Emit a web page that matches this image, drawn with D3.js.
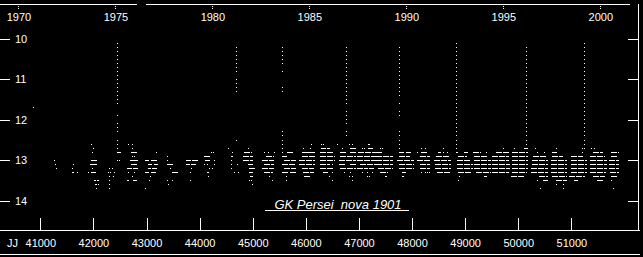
<!DOCTYPE html>
<html lang="en">
<head>
<meta charset="utf-8">
<title>GK Persei nova 1901</title>
<script src="https://d3js.org/d3.v7.min.js"></script>
<style>
  html, body { margin: 0; padding: 0; background: #000; }
  svg { display: block; background: #000; }
  text { font-family: "Liberation Sans", Arial, sans-serif; fill: #fff; }
</style>
</head>
<body>
<svg id="chart" width="643" height="257"></svg>
<script>

// tick values
var yearTicks = [1970, 1975, 1980, 1985, 1990, 1995, 2000];
var jdTicks = [41000, 42000, 43000, 44000, 45000, 46000, 47000, 48000, 49000, 50000, 51000];
var magTicks = [10, 11, 12, 13, 14];

// outbursts: date (JD - 2400000) and the magnitudes seen in each column
var outburstJD = [42454, 44685, 45570, 46766, 47755, 48837, 50155, 51247];
var outburstMags = [
  [10.1, 10.2, 10.3, 10.4, 10.5, 10.6, 10.7, 10.8, 10.9, 11.0, 11.1, 11.2, 11.3, 11.4, 11.5, 11.6, 11.9, 12.1, 12.2, 12.3, 12.5, 12.6, 12.7, 12.8, 13.0],
  [10.2, 10.3, 10.4, 10.5, 10.6, 10.7, 10.8, 11.0, 11.1, 11.2, 11.3, 12.5],
  [10.2, 10.3, 10.4, 10.5, 10.6, 10.8, 11.2, 11.3, 12.3, 12.4, 12.5, 12.6],
  [10.2, 10.3, 10.4, 10.5, 10.6, 10.7, 10.8, 10.9, 11.0, 11.1, 11.2, 11.3, 11.4, 11.5, 11.6, 11.8, 11.9, 12.0, 12.1, 12.3, 12.4],
  [10.2, 10.3, 10.4, 10.5, 10.6, 10.7, 10.8, 10.9, 11.0, 11.1, 11.2, 11.3, 11.4, 11.6, 11.8, 11.9, 12.3, 12.4, 12.5, 12.6, 12.7],
  [10.1, 10.2, 10.3, 10.4, 10.5, 10.6, 10.7, 10.8, 10.9, 11.0, 11.1, 11.2, 11.3, 11.4, 11.5, 11.6, 11.7, 11.8, 11.9, 12.0, 12.1, 12.2, 12.3, 12.4, 12.5, 12.6, 12.7, 12.8],
  [10.2, 10.3, 10.4, 10.5, 10.6, 10.7, 10.8, 10.9, 11.0, 11.1, 11.2, 11.3, 11.4, 11.5, 11.6, 11.7, 11.8, 11.9, 12.0, 12.1, 12.2, 12.3, 12.4, 12.5, 12.6],
  [10.1, 10.2, 10.3, 10.4, 10.5, 10.6, 10.7, 10.8, 10.9, 11.0, 11.1, 11.2, 11.3, 11.4, 11.5, 11.6, 11.7, 11.8, 11.9, 12.0, 12.1, 12.2, 12.3, 12.4, 12.5, 12.6, 12.7]
];

// quiescence estimates: [JD from, JD to, magnitude] (from == to for a single estimate)
var quiescence = [
  [40881, 40881, 11.7],
  [41258, 41258, 13.0], [41277, 41277, 13.1], [41296, 41296, 13.2],
  // 1972
  [41616, 41616, 13.1], [41610, 41610, 13.2],
  [41597, 41597, 13.3], [41634, 41634, 13.3], [41691, 41691, 13.3],
  // 1973
  [41968, 41968, 12.6], [41998, 41998, 12.7], [41992, 41992, 12.8],
  [41955, 41992, 13.0], [42011, 42049, 13.0],
  [41936, 41992, 13.1], [42011, 42061, 13.1],
  [41992, 41992, 13.2],
  [41904, 41904, 13.3], [41955, 42030, 13.3],
  [42017, 42030, 13.5], [42086, 42105, 13.5],
  [42030, 42049, 13.6], [42105, 42105, 13.6],
  [42049, 42049, 13.7],
  // 1974
  [42312, 42312, 13.2], [42363, 42363, 13.2],
  [42275, 42275, 13.3], [42331, 42331, 13.3], [42406, 42406, 13.3],
  [42294, 42294, 13.4], [42369, 42369, 13.4],
  [42294, 42294, 13.5], [42312, 42312, 13.6], [42294, 42294, 13.7],
  [42463, 42501, 12.8], [42482, 42482, 13.0],
  // 1975-76
  [42670, 42670, 12.6], [42727, 42727, 12.6], [42727, 42727, 12.7],
  [42708, 42821, 12.8],
  [42727, 42727, 12.9], [42783, 42783, 12.9],
  [42689, 42727, 13.0], [42764, 42821, 13.0],
  [42708, 42821, 13.1],
  [42651, 42708, 13.2], [42746, 42821, 13.2],
  [42670, 42670, 13.3], [42783, 42783, 13.3],
  [42727, 42727, 13.4],
  [42651, 42670, 13.5], [42746, 42802, 13.5],
  // 1976-77
  [43197, 43197, 12.8],
  [42990, 43028, 13.0], [43085, 43197, 13.0],
  [43028, 43103, 13.1], [43141, 43216, 13.1],
  [43028, 43066, 13.2], [43122, 43197, 13.2],
  [42990, 43028, 13.3], [43103, 43160, 13.3],
  [43066, 43066, 13.4], [43047, 43047, 13.5], [42990, 42990, 13.7],
  // 1977-78
  [43398, 43398, 12.9], [43386, 43386, 13.0],
  [43404, 43480, 13.1], [43461, 43461, 13.2], [43480, 43574, 13.3],
  [43386, 43386, 13.5], [43480, 43480, 13.5], [43423, 43423, 13.6],
  // 1978-79
  [43762, 43819, 13.0], [43875, 43951, 13.0],
  [43762, 43800, 13.1], [43856, 43913, 13.1],
  [43856, 43856, 13.2], [43819, 43819, 13.3], [43819, 43819, 13.5],
  // 1979-80
  [44233, 44233, 12.8], [44270, 44270, 12.8],
  [44101, 44195, 12.9],
  [44120, 44195, 13.0], [44276, 44276, 13.0],
  [44101, 44101, 13.1], [44139, 44139, 13.1], [44276, 44276, 13.1],
  [44195, 44195, 13.2], [44251, 44251, 13.2],
  [44139, 44158, 13.3], [44158, 44158, 13.4],
  // 1980-81
  [44553, 44553, 12.7], [44628, 44628, 12.8],
  [44591, 44628, 12.9], [44591, 44591, 13.0], [44591, 44591, 13.1], [44704, 44704, 13.1],
  [44591, 44591, 13.2], [44666, 44666, 13.3], [44723, 44723, 13.3],
  // 1981-82
  [44911, 44911, 12.7], [44854, 44986, 12.8], [44835, 45005, 12.9],
  [44835, 45005, 13.0], [44911, 45005, 13.1], [44930, 45043, 13.2],
  [44930, 45005, 13.3], [44949, 45005, 13.4],
  [44930, 44930, 13.5], [44986, 44986, 13.5], [45005, 45005, 13.6],
  // 1982-83
  [45231, 45231, 12.8], [45306, 45306, 12.8], [45419, 45419, 12.8],
  [45250, 45400, 12.9], [45193, 45400, 13.0], [45231, 45400, 13.1],
  [45193, 45400, 13.2], [45231, 45363, 13.3], [45325, 45325, 13.4], [45363, 45363, 13.5],
  // 1983-84
  [45570, 45570, 12.7], [45570, 45570, 12.8], [45664, 45758, 12.8],
  [45570, 45645, 12.9], [45589, 45796, 13.0], [45570, 45796, 13.1],
  [45589, 45796, 13.2], [45570, 45664, 13.3], [45702, 45796, 13.3],
  [45645, 45645, 13.4], [45645, 45645, 13.5],
  // 1984-85
  [46116, 46116, 12.6], [45947, 45947, 12.7], [46097, 46097, 12.7],
  [45928, 45984, 12.8], [46003, 46059, 12.8], [46078, 46172, 12.8],
  [45928, 46172, 12.9], [45890, 46172, 13.0], [45890, 46172, 13.1],
  [45928, 46135, 13.2], [45947, 46135, 13.3], [45984, 46078, 13.4],
  // 1985-86
  [46304, 46304, 12.6], [46342, 46342, 12.6],
  [46304, 46361, 12.7], [46399, 46455, 12.7],
  [46285, 46511, 12.8], [46285, 46549, 12.9], [46267, 46549, 13.0],
  [46285, 46455, 13.1], [46511, 46511, 13.1], [46285, 46511, 13.2],
  [46342, 46399, 13.3], [46511, 46511, 13.3], [46455, 46455, 13.4], [46511, 46511, 13.5],
  // 1986-87
  [46605, 46605, 12.6], [46813, 46813, 12.6], [46870, 46870, 12.6],
  [46699, 46699, 12.7], [46832, 46926, 12.7],
  [46662, 46756, 12.8], [46832, 46926, 12.8],
  [46662, 46926, 12.9], [46643, 46926, 13.0],
  [46643, 46756, 13.1], [46832, 46926, 13.1],
  [46662, 46926, 13.2], [46737, 46737, 13.3], [46832, 46832, 13.3],
  [46813, 46813, 13.4], [46870, 46870, 13.4], [46870, 46870, 13.5],
  // 1987-88
  [47171, 47171, 12.6], [47208, 47208, 12.6],
  [47058, 47058, 12.7], [47114, 47114, 12.7], [47171, 47246, 12.7],
  [47001, 47303, 12.8], [46982, 47303, 12.9], [46982, 47303, 13.0],
  [47020, 47303, 13.1], [46982, 47152, 13.2], [47208, 47265, 13.2],
  [47076, 47076, 13.3], [47152, 47152, 13.3], [47246, 47246, 13.3],
  [47152, 47152, 13.4], [47208, 47208, 13.4],
  // 1988-89
  [47397, 47397, 12.7], [47453, 47453, 12.7],
  [47340, 47453, 12.8], [47340, 47623, 12.9], [47340, 47623, 13.0],
  [47340, 47623, 13.1], [47359, 47623, 13.2],
  [47397, 47491, 13.3], [47547, 47547, 13.3], [47491, 47491, 13.4], [47528, 47528, 13.4],
  // 1989-90
  [47773, 47830, 12.8], [47905, 47980, 12.8],
  [47755, 47961, 12.9], [47717, 48018, 13.0], [47773, 48018, 13.1],
  [47773, 48018, 13.2], [47811, 47868, 13.3], [47811, 47811, 13.4], [47830, 47830, 13.4],
  // 1990-91
  [48187, 48187, 12.7], [48244, 48244, 12.7],
  [48112, 48112, 12.8], [48187, 48300, 12.8],
  [48150, 48338, 12.9], [48112, 48338, 13.0], [48150, 48338, 13.1], [48150, 48338, 13.2],
  [48187, 48187, 13.3], [48244, 48244, 13.3], [48300, 48300, 13.3], [48338, 48338, 13.3],
  // 1991-92
  [48601, 48601, 12.7],
  [48507, 48545, 12.8], [48601, 48601, 12.8], [48677, 48677, 12.8],
  [48464, 48682, 12.9], [48432, 48733, 13.0], [48451, 48733, 13.1], [48451, 48733, 13.2],
  [48470, 48715, 13.3],
  // 1992-93
  [48847, 48847, 12.8], [48997, 49053, 12.8],
  [48866, 49034, 12.9], [48847, 49092, 13.0], [48847, 49129, 13.1], [48847, 49129, 13.2],
  [48866, 49092, 13.3], [48903, 48903, 13.4], [48884, 48884, 13.5],
  // 1993-94
  [49166, 49280, 12.8], [49411, 49411, 12.8],
  [49185, 49411, 12.9], [49185, 49468, 13.0], [49185, 49468, 13.1], [49185, 49468, 13.2],
  [49223, 49468, 13.3], [49355, 49411, 13.4],
  // 1994-95
  [49713, 49713, 12.7], [49581, 49807, 12.8], [49524, 49807, 12.9],
  [49524, 49807, 13.0], [49524, 49826, 13.1], [49524, 49826, 13.2], [49524, 49807, 13.3],
  // 1995-96
  [49920, 49920, 12.7], [50127, 50165, 12.7],
  [49901, 50165, 12.8], [49901, 50165, 12.9], [49901, 50165, 13.0],
  [49901, 50165, 13.1], [49901, 50165, 13.2], [49901, 50146, 13.3], [49882, 50127, 13.4],
  // 1996-97
  [50334, 50334, 12.7], [50353, 50353, 12.8], [50503, 50503, 12.8],
  [50278, 50541, 12.9], [50259, 50560, 13.0], [50259, 50560, 13.1],
  [50240, 50560, 13.2], [50240, 50560, 13.3], [50409, 50560, 13.4],
  [50353, 50353, 13.5], [50466, 50560, 13.5], [50428, 50428, 13.7],
  // 1997-98
  [50729, 50729, 12.7], [50654, 50729, 12.8], [50654, 50842, 12.9],
  [50635, 50917, 13.0], [50635, 50917, 13.1], [50635, 50917, 13.2], [50635, 50917, 13.3],
  [50654, 50917, 13.4], [50729, 50917, 13.5], [50729, 50729, 13.6], [50861, 50861, 13.6], [50861, 50861, 13.7],
  // 1998-99
  [51218, 51218, 12.7], [51218, 51218, 12.8], [51012, 51218, 12.9],
  [51012, 51294, 13.0], [51012, 51294, 13.1], [51012, 51294, 13.2], [51012, 51294, 13.3],
  [50974, 51256, 13.4], [51068, 51124, 13.5],
  // 1999-2000
  [51370, 51370, 12.7], [51445, 51445, 12.7], [51408, 51595, 12.8], [51351, 51633, 12.9],
  [51351, 51671, 13.0], [51351, 51671, 13.1], [51351, 51671, 13.2], [51351, 51652, 13.3],
  [51408, 51633, 13.4], [51483, 51577, 13.5],
  // 2000-01
  [51765, 51897, 12.8], [51765, 51878, 12.9], [51727, 51897, 13.0], [51727, 51897, 13.1],
  [51727, 51897, 13.2], [51746, 51897, 13.3], [51765, 51878, 13.4], [51765, 51765, 13.5], [51802, 51802, 13.7]
];

var svg = d3.select("#chart"),
  width = +svg.attr("width"),
  height = +svg.attr("height");

// JD along the bottom, magnitudes reversed on the left
var x = d3.scaleLinear().domain([40241, 52349]).range([0, width]);
var y = d3.scaleLinear().domain([10, 14]).range([39, 200.6]);

// calendar year -> JD - 2400000
function yearToJD(yr) { return 40587.5 + (yr - 1970) * 365.25; }
var xYear = d3.scaleLinear()
  .domain([1970, 2000])
  .range([x(yearToJD(1970)), x(yearToJD(2000))]);

var frame = svg.append("g").attr("shape-rendering", "crispEdges").attr("stroke", "#fff");

// top rule (broken between 1975 and 1980) and right edge
frame.append("line").attr("x1", 0).attr("x2", 137).attr("y1", 4.5).attr("y2", 4.5);
frame.append("line").attr("x1", 146).attr("x2", 630).attr("y1", 4.5).attr("y2", 4.5);
frame.append("line").attr("x1", 638.5).attr("x2", 638.5).attr("y1", 4).attr("y2", 230);

// bottom rules
frame.append("line").attr("x1", 0).attr("x2", 640).attr("y1", 230.5).attr("y2", 230.5);
frame.append("line").attr("x1", 0).attr("x2", 640).attr("y1", 254.5).attr("y2", 254.5);

function styleAxis(g) {
  g.select(".domain").remove();
  g.selectAll(".tick line").attr("stroke", "#fff").attr("shape-rendering", "crispEdges");
  g.selectAll(".tick text").attr("fill", "#fff")
    .style("font-family", '"Liberation Sans", Arial, sans-serif');
}

// years on top
svg.append("g")
  .attr("transform", "translate(0,4)")
  .call(d3.axisBottom(xYear).tickValues(yearTicks).tickFormat(d3.format("d"))
    .tickSize(6).tickPadding(3.5))
  .call(styleAxis)
  .call(g => g.selectAll(".tick line").attr("stroke-dasharray", "1 1"))
  .call(g => g.selectAll(".tick text").attr("font-size", 11));

// JJ on the bottom, ticks pointing up
svg.append("g")
  .attr("transform", "translate(0,230)")
  .call(d3.axisBottom(x).tickValues(jdTicks).tickFormat(d3.format("d"))
    .tickSizeInner(-12).tickSizeOuter(0).tickPadding(9))
  .call(styleAxis)
  .call(g => g.selectAll(".tick text").attr("font-size", 11));

svg.append("text")
  .attr("x", 7).attr("y", 246.5)
  .attr("font-size", 11)
  .text("JJ");

// magnitudes, left
svg.append("g")
  .attr("transform", "translate(0,0)")
  .call(d3.axisRight(y).tickValues(magTicks).tickFormat(d3.format("d"))
    .tickSize(10).tickPadding(5))
  .call(styleAxis)
  .call(g => g.selectAll(".tick text").attr("font-size", 11));

// magnitudes, right (ticks only)
svg.append("g")
  .attr("transform", "translate(638,0)")
  .call(d3.axisLeft(y).tickValues(magTicks).tickFormat("").tickSize(10))
  .call(styleAxis);

// quiescent estimates
svg.append("g")
  .attr("shape-rendering", "crispEdges")
  .selectAll("line")
  .data(quiescence)
  .join("line")
  .attr("x1", d => Math.floor(x(d[0])))
  .attr("x2", d => Math.floor(x(d[1])) + 1)
  .attr("y1", d => Math.floor(y(d[2])) + 0.5)
  .attr("y2", d => Math.floor(y(d[2])) + 0.5)
  .attr("stroke", "#fff")
  .attr("stroke-width", 1)
  .attr("stroke-dasharray", "6 1");

// outburst columns
var outburstPts = [];
outburstJD.forEach(function (jd, i) {
  outburstMags[i].forEach(function (m) { outburstPts.push([jd, m]); });
});

svg.append("g")
  .attr("shape-rendering", "crispEdges")
  .selectAll("rect")
  .data(outburstPts)
  .join("rect")
  .attr("x", d => Math.floor(x(d[0])))
  .attr("y", d => Math.floor(y(d[1])))
  .attr("width", 1)
  .attr("height", 1)
  .attr("fill", "#fff");

// title
svg.append("text")
  .attr("x", 338).attr("y", 209)
  .attr("text-anchor", "middle")
  .attr("font-size", 13)
  .attr("font-style", "italic")
  .text("GK Persei  nova 1901")
  .style("white-space", "pre");

frame.append("line").attr("x1", 265).attr("x2", 409).attr("y1", 210.5).attr("y2", 210.5);

</script>
</body>
</html>
